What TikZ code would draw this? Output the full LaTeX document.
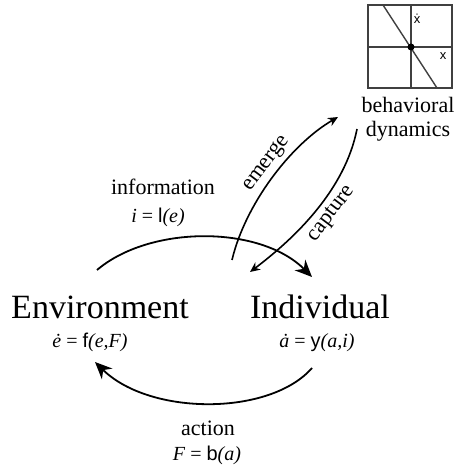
\documentclass[tikz,border=0pt]{standalone}
\usepackage{fontspec}
\setmainfont{Liberation Serif}
\newfontfamily\fnsans{Liberation Sans}
\usetikzlibrary{arrows.meta}
\tikzset{
  big/.style={font=\fontsize{34bp}{38bp}\selectfont, inner sep=0pt, anchor=base},
  lbl/.style={font=\fontsize{22bp}{25bp}\selectfont, inner sep=0pt, anchor=base},
  eqn/.style={font=\fontsize{20bp}{24bp}\selectfont, inner sep=0pt, anchor=base},
  bigarrow/.style={line width=1.8bp, -{Stealth[length=17bp,width=15bp]}},
  smallarrow/.style={line width=1.6bp, -{Stealth[length=10bp,width=9bp]}},
  gridline/.style={draw=black!75, line width=1.4bp},
}
\newcommand{\fn}[1]{{\fnsans #1}}
\begin{document}
\begin{tikzpicture}[x=1bp,y=-1bp]
\useasboundingbox (0,0) rectangle (461,470);
% phase plot
\draw[gridline] (368,5) rectangle (452,88);
\draw[gridline] (411,5) -- (411,88);
\draw[gridline] (368,47) -- (452,47);
\draw[gridline] (383,5) -- (437,88);
\fill (411,47) circle (3.5bp);
\node[font=\fnsans\fontsize{13bp}{15bp}\selectfont, inner sep=0pt] (xd) at (417,19) {\.{x}};
\node[font=\fnsans\fontsize{13bp}{15bp}\selectfont, inner sep=0pt] (xx) at (443,56) {x};
\node[lbl] (beh) at (408,113) {behavioral};
\node[lbl] (dyn) at (408,137) {dynamics};
% main nodes
\node[big] (env) at (100,318) {Environment};
\node[big] (ind) at (320,318) {Individual};
\node[eqn] (envq) at (90,347) {\textit{\.{e}} = \fn{f}\textit{(e,F)}};
\node[eqn] (indq) at (317,347) {\textit{\.{a}} = \fn{y}\textit{(a,i)}};
\node[lbl] (info) at (163,195) {information};
\node[eqn] (infoq) at (158,223) {\textit{i} = \fn{l}\textit{(e)}};
\node[lbl] (act) at (208,435) {action};
\node[eqn] (actq) at (207,460) {\textit{F} = \fn{b}\textit{(a)}};
% connector endpoints
\coordinate (infoS) at (97,270);
\coordinate (infoE) at (312,277);
\coordinate (actS) at (312,368);
\coordinate (actE) at (95,362);
\coordinate (emS) at (232,260);
\coordinate (emE) at (338,117);
\coordinate (caS) at (357,129);
\coordinate (caE) at (250,272);
% connectors
\draw[bigarrow] (infoS) .. controls (150,225) and (260,225) .. (infoE);
\draw[bigarrow] (actS) .. controls (270,416) and (150,416) .. (actE);
\draw[smallarrow] (emS) .. controls (245,205) and (290,145) .. (emE);
\draw[smallarrow] (caS) .. controls (345,190) and (295,238) .. (caE);
% rotated labels
\node[lbl, anchor=center, rotate=53] (emlbl) at (267,164) {emerge};
\node[lbl, anchor=center, rotate=53] (calbl) at (332,214) {capture};
\end{tikzpicture}
\end{document}
